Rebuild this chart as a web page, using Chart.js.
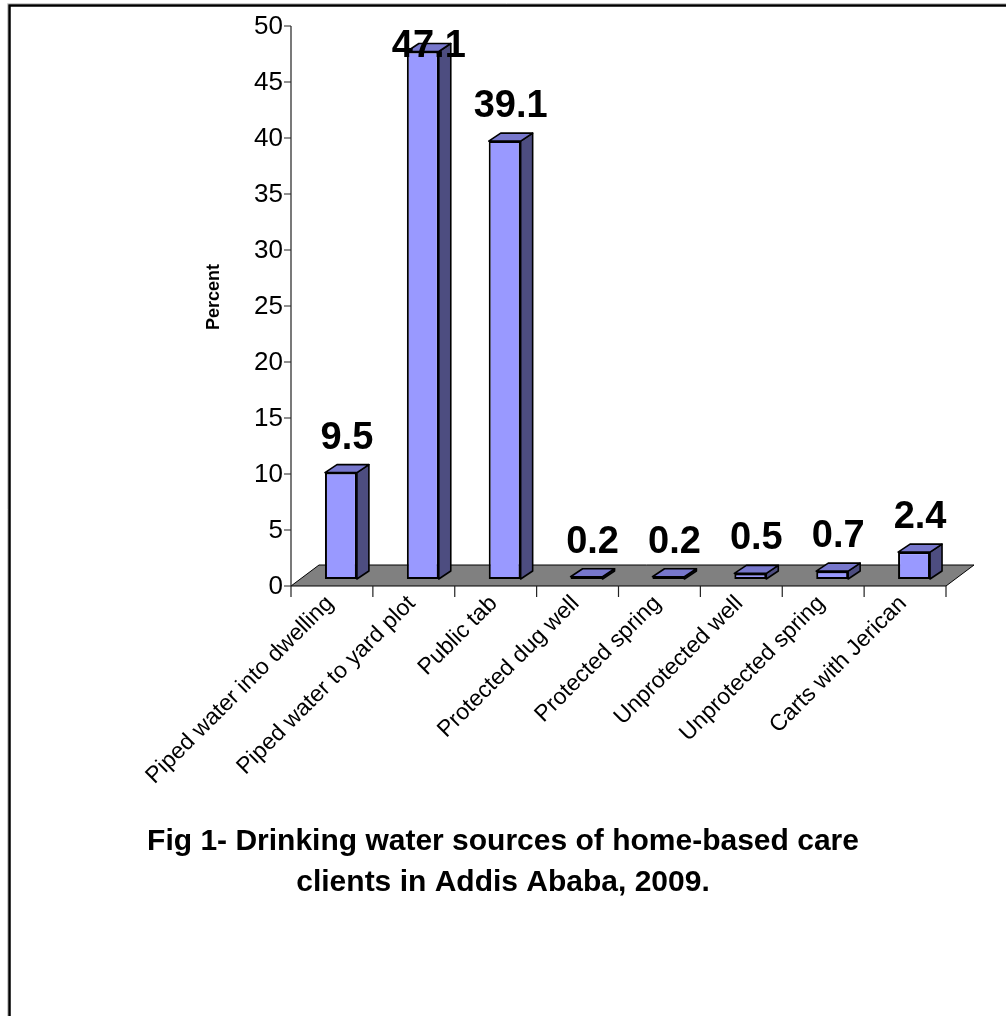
<!DOCTYPE html>
<html>
<head>
<meta charset="utf-8" />
<script src="https://cdn.jsdelivr.net/npm/chart.js@4.4.0/dist/chart.umd.min.js"></script>
<style>
 html, body { margin: 0; padding: 0; background: #fff; }
 canvas { display: block; }
</style>
<title>Drinking water sources</title>
</head>
<body>
<canvas id="bar-chart" width="1006" height="1016"></canvas>
<script>
var sources = ["Piped water into dwelling", "Piped water to yard plot", "Public tab",
               "Protected dug well", "Protected spring", "Unprotected well",
               "Unprotected spring", "Carts with Jerican"];
var percent = [9.5, 47.1, 39.1, 0.2, 0.2, 0.5, 0.7, 2.4];
var yTicks = [0, 5, 10, 15, 20, 25, 30, 35, 40, 45, 50];
var axisTitle = "Percent";
var figTitle = ["Fig 1- Drinking water sources of home-based care",
                "clients in Addis Ababa, 2009."];

var FONT = '"Liberation Sans", Arial, sans-serif';
// floor depth and box depth in px
var floorDX = 28, floorDY = 21;
var boxDX = 12, boxDY = 8;
// front faces stand a bit back from the floor edge
var shiftX = 9, shiftY = 7;

function poly(ctx, pts, fill) {
    ctx.beginPath();
    ctx.moveTo(pts[0][0], pts[0][1]);
    for (var i = 1; i < pts.length; i++) ctx.lineTo(pts[i][0], pts[i][1]);
    ctx.closePath();
    ctx.fillStyle = fill;
    ctx.fill();
    ctx.stroke();
}

var box3d = {
    id: 'box3d',
    beforeDatasetsDraw: function(chart) {
        var ctx = chart.ctx, a = chart.chartArea;
        var xs = chart.scales.x, ys = chart.scales.y;
        var y0 = ys.getPixelForValue(0);
        ctx.save();
        // grey floor
        ctx.strokeStyle = '#000';
        ctx.lineWidth = 1;
        poly(ctx, [[a.left, y0], [a.right, y0], [a.right + floorDX, y0 - floorDY],
                   [a.left + floorDX, y0 - floorDY]], '#808080');

        // value axis
        ctx.lineWidth = 1.2;
        ctx.strokeStyle = '#222';
        ctx.beginPath();
        ctx.moveTo(a.left, ys.getPixelForValue(yTicks[yTicks.length - 1]));
        ctx.lineTo(a.left, y0 + 11);
        yTicks.forEach(function(v) {
            var py = ys.getPixelForValue(v);
            ctx.moveTo(a.left - 7, py);
            ctx.lineTo(a.left, py);
        });
        // category ticks
        for (var i = 0; i <= sources.length; i++) {
            var px = xs.getPixelForValue(i - 0.5);
            ctx.moveTo(px, y0);
            ctx.lineTo(px, y0 + 11);
        }
        ctx.stroke();

        ctx.fillStyle = '#000';
        ctx.font = '26px ' + FONT;
        ctx.textAlign = 'right';
        ctx.textBaseline = 'middle';
        yTicks.forEach(function(v) {
            ctx.fillText(String(v), a.left - 8, ys.getPixelForValue(v) + 1);
        });

        // axis title
        ctx.save();
        ctx.translate(214, 297);
        ctx.rotate(-Math.PI / 2);
        ctx.textAlign = 'center';
        ctx.font = 'bold 18px ' + FONT;
        ctx.fillText(axisTitle, 0, 0);
        ctx.restore();

        // slanted category labels
        ctx.font = '23px ' + FONT;
        sources.forEach(function(s, i) {
            ctx.save();
            ctx.translate(xs.getPixelForValue(i) - 2, y0 + 14);
            ctx.rotate(-Math.PI / 4);
            ctx.textAlign = 'right';
            ctx.textBaseline = 'middle';
            ctx.fillText(s, 0, 0);
            ctx.restore();
        });
        ctx.restore();

        // bars are drawn shifted back onto the floor
        ctx.save();
        ctx.translate(shiftX, -shiftY);
    },
    afterDatasetsDraw: function(chart) {
        var ctx = chart.ctx;
        var bars = chart.getDatasetMeta(0).data;
        ctx.strokeStyle = '#000';
        ctx.lineWidth = 1.6;
        ctx.lineJoin = 'round';
        bars.forEach(function(bar) {
            var p = bar.getProps(['x', 'y', 'base', 'width'], true);
            var l = p.x - p.width / 2, r = p.x + p.width / 2, t = p.y, b = p.base;
            poly(ctx, [[r, t], [r + boxDX, t - boxDY], [r + boxDX, b - boxDY], [r, b]], '#4D4D80');
            poly(ctx, [[l, t], [l + boxDX, t - boxDY], [r + boxDX, t - boxDY], [r, t]], '#7777CC');
        });
        ctx.restore();

        // value labels above the boxes, kept inside the plot area
        var a = chart.chartArea;
        ctx.save();
        ctx.fillStyle = '#000';
        ctx.font = 'bold 38px ' + FONT;
        ctx.textAlign = 'center';
        ctx.textBaseline = 'alphabetic';
        bars.forEach(function(bar, i) {
            var p = bar.getProps(['x', 'y'], true);
            var by = p.y - shiftY - boxDY - 16;
            by = Math.max(by, a.top + 31);
            ctx.fillText(percent[i].toFixed(1), p.x + shiftX + 6, by);
        });
        ctx.restore();
    },
    afterDraw: function(chart) {
        var ctx = chart.ctx;
        ctx.save();
        ctx.fillStyle = '#000';
        ctx.font = 'bold 30px ' + FONT;
        ctx.textAlign = 'center';
        ctx.textBaseline = 'middle';
        ctx.fillText(figTitle[0], 503, 842);
        ctx.fillText(figTitle[1], 503, 883);

        // frame
        ctx.strokeStyle = '#ccc';
        ctx.lineWidth = 1;
        ctx.beginPath();
        ctx.moveTo(7.5, 1016); ctx.lineTo(7.5, 3.5); ctx.lineTo(1006, 3.5);
        ctx.stroke();
        ctx.strokeStyle = '#000';
        ctx.lineWidth = 2.5;
        ctx.beginPath();
        ctx.moveTo(9.5, 1016); ctx.lineTo(9.5, 5.5); ctx.lineTo(1006, 5.5);
        ctx.stroke();
        ctx.restore();
    }
};

new Chart(document.getElementById("bar-chart"), {
    type: 'bar',
    data: {
        labels: sources,
        datasets: [{
            data: percent,
            backgroundColor: '#9999FF',
            borderColor: '#000',
            borderWidth: 2,
            borderSkipped: false,
            categoryPercentage: 1,
            barPercentage: 0.39,
            clip: false
        }]
    },
    options: {
        responsive: false,
        devicePixelRatio: 1,
        animation: false,
        layout: { padding: { left: 291, right: 60, top: 26, bottom: 430 } },
        plugins: { legend: { display: false }, tooltip: { enabled: false } },
        scales: {
            x: { display: false },
            y: { display: false, min: 0, max: 50 }
        }
    },
    plugins: [box3d]
});
</script>
</body>
</html>
